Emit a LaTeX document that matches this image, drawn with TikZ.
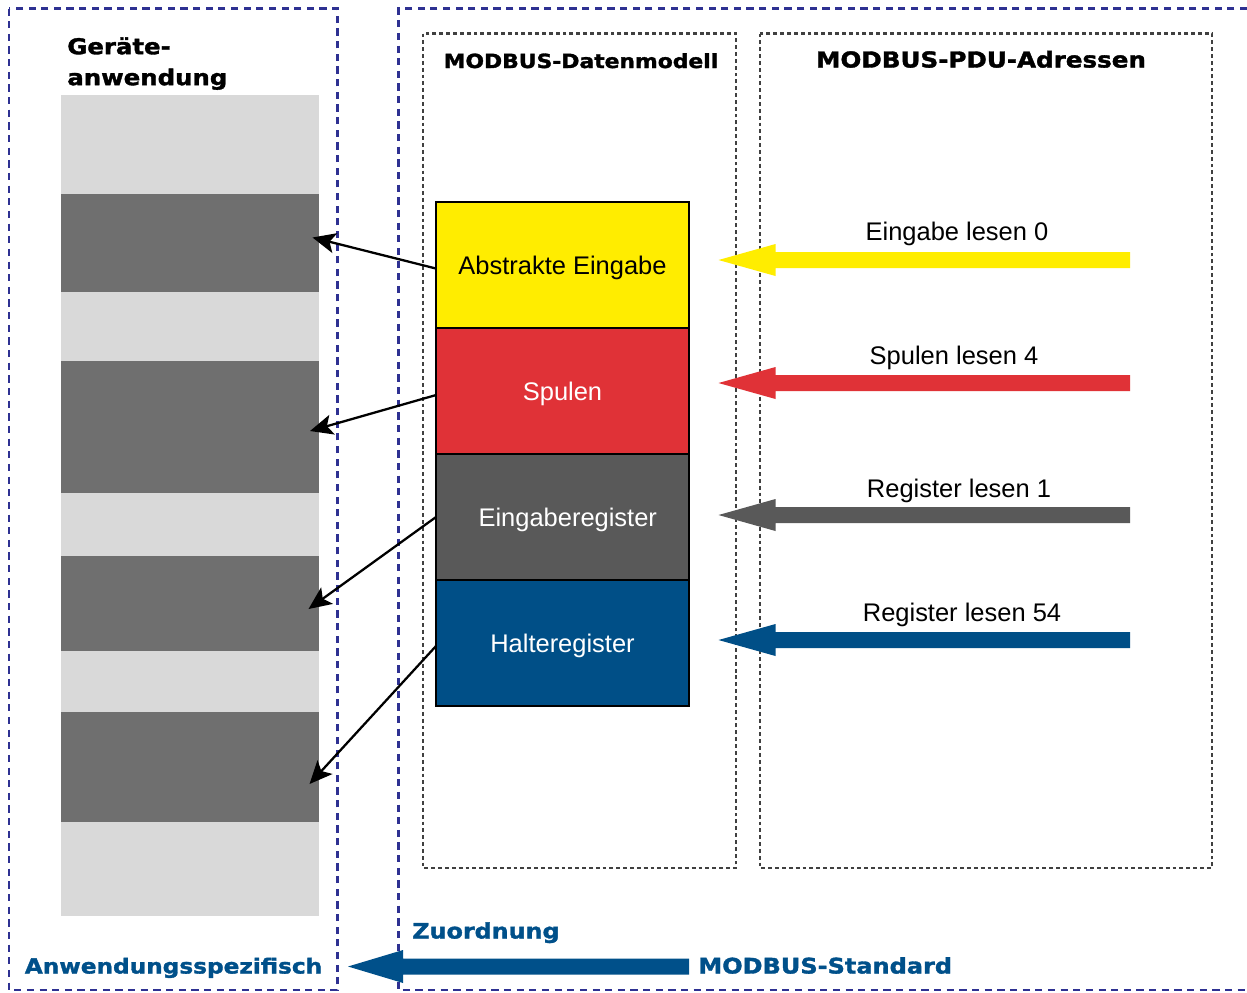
\documentclass[tikz,border=0pt]{standalone}
\usepackage{fontspec}
\setmainfont{Liberation Sans}
\newfontfamily\heavyfont{DejaVu Sans}[FakeStretch=1.12, FakeBold=1.6]
\usetikzlibrary{arrows.meta,calc}

\definecolor{frameblue}{HTML}{2E3192}
\definecolor{dotgray}{HTML}{404040}
\definecolor{lightcol}{HTML}{D9D9D9}
\definecolor{darkcol}{HTML}{6F6F6F}
\definecolor{inyellow}{HTML}{FFED00}
\definecolor{coilred}{HTML}{E03237}
\definecolor{regdark}{HTML}{595959}
\definecolor{holdblue}{HTML}{004F87}
\definecolor{stdblue}{HTML}{00508A}

% broad filled arrow: colour, tail, tip, half shaft, half head, head length
\newcommand\fatarrow[6]{%
  \fill[#1] (#3) -- ($(#3)+(#6,-#5)$) -- ($(#3)+(#6,-#4)$) -- ($(#2)+(0,-#4)$)
    -- ($(#2)+(0,#4)$) -- ($(#3)+(#6,#4)$) -- ($(#3)+(#6,#5)$) -- cycle;}

\tikzset{
  navyframe/.style={draw=frameblue, line width=1.3pt, dash pattern=on 4.1pt off 3.1pt},
  dotframe/.style={draw=dotgray, line width=1.2pt, dash pattern=on 2.2pt off 1.7pt},
  heavy/.style={font=\heavyfont\bfseries\fontsize{#1}{#1}\selectfont, inner sep=0pt},
  plain/.style={font=\fontsize{14.5pt}{16pt}\selectfont, inner sep=0pt},
  regbox/.style={draw=black, line width=1.2pt, minimum width=5.06cm, minimum height=2.52cm,
    outer sep=0pt, inner sep=0pt, text height=10.4pt, text depth=0pt,
    font=\fontsize{14.5pt}{16pt}\selectfont},
  conn/.style={draw=black, line width=1.3pt, -{Stealth[length=13pt, width=11.5pt, inset=3pt]}},
}

\begin{document}
\begin{tikzpicture}[x=0.02cm, y=-0.02cm]
\useasboundingbox (0,0) rectangle (1247,992);
\fill[white] (0,0) rectangle (1247,992);

% outer frames
\draw[navyframe] (9,8.5) rectangle (337.5,990);
\draw[navyframe] (1247,8.5) -- (398.5,8.5) -- (398.5,990) -- (1247,990);

% inner frames
\draw[dotframe] (423,33.5) rectangle (736,868);
\draw[dotframe] (760,33.5) rectangle (1212,868);

% titles
\node[heavy=12pt, anchor=north west, align=left, font=\heavyfont\bfseries\fontsize{12.4pt}{17.6pt}\selectfont]
  (apptitle) at (67,37) {Geräte-\\anwendung};
\node[heavy=11.1pt, anchor=base] (dmtitle) at (581,68) {MODBUS-Datenmodell};
\node[heavy=12.5pt, anchor=base] (pdutitle) at (981,67.5) {MODBUS-PDU-Adressen};

% device application memory
\fill[lightcol] (61,95) rectangle (319,916);
\fill[darkcol] (61,194) rectangle (319,292);
\fill[darkcol] (61,361) rectangle (319,493);
\fill[darkcol] (61,556) rectangle (319,651);
\fill[darkcol] (61,712) rectangle (319,822);

% data model
\node[regbox, fill=inyellow, text=black] (abs) at (562.5,265) {Abstrakte Eingabe};
\node[regbox, fill=coilred, text=white] (coil) at (562.5,391) {Spulen};
\node[regbox, fill=regdark, text=white] (inreg) at (562.5,517) {\hspace*{6pt}Eingaberegister};
\node[regbox, fill=holdblue, text=white] (hold) at (562.5,643) {Halteregister};

% mapping into the application
\coordinate (t1) at (312.5,237.5);
\coordinate (t2) at (310,431);
\coordinate (t3) at (308.5,609);
\coordinate (t4) at (309.5,784);
\draw[conn] ([yshift=-2pt]abs.west) -- (t1);
\draw[conn] ([yshift=-2.3pt]coil.west) -- (t2);
\draw[conn] (inreg.west) -- (t3);
\draw[conn] ([yshift=-1.7pt]hold.west) -- (t4);

% PDU requests
\coordinate (r1s) at (1130,260);   \coordinate (r1t) at (718.5,260);
\coordinate (r2s) at (1130,383);   \coordinate (r2t) at (718.5,383);
\coordinate (r3s) at (1130,515);   \coordinate (r3t) at (718.5,515);
\coordinate (r4s) at (1130,640);   \coordinate (r4t) at (718.5,640);
\fatarrow{inyellow}{r1s}{r1t}{8}{16}{57}
\fatarrow{coilred}{r2s}{r2t}{8}{16}{57}
\fatarrow{regdark}{r3s}{r3t}{8}{16}{57}
\fatarrow{holdblue}{r4s}{r4t}{8}{16}{57}
\node[plain, anchor=base] (l1) at (957,240.5) {Eingabe lesen 0};
\node[plain, anchor=base] (l2) at (954,364.5) {Spulen lesen 4};
\node[plain, anchor=base] (l3) at (959,497.5) {Register lesen 1};
\node[plain, anchor=base] (l4) at (962,621.5) {Register lesen 54};

% standard vs. application specific
\coordinate (bs) at (689,966.5);
\coordinate (bt) at (348,966.5);
\fatarrow{stdblue}{bs}{bt}{8}{16.5}{55}
\node[heavy=11.8pt, text=stdblue, anchor=base west] (spec) at (24.5,973.5) {Anwendungsspezifisch};
\node[heavy=12.2pt, text=stdblue, anchor=base west] (std) at (698,973.5) {MODBUS-Standard};
\node[heavy=12.1pt, text=stdblue, anchor=base west] (map) at (412,938.5) {Zuordnung};
\end{tikzpicture}
\end{document}
